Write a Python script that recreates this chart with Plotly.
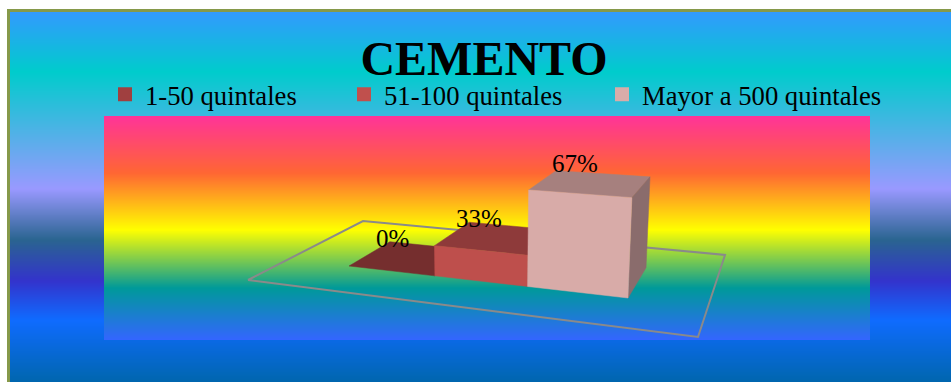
import numpy as np
import plotly.graph_objects as go

# ---- data
categories = ["1-50 quintales", "51-100 quintales", "Mayor a 500 quintales"]
values = [0, 33, 67]
value_labels = ["0%", "33%", "67%"]
title_text = "CEMENTO"

# ---- styles
W, H = 951, 382
legend_colors = ["#A04040", "#C0504D", "#D9ACA9"]
front_colors = ["#752E2E", "#BE4F4C", "#D8ABA8"]
top_colors = ["#752E2E", "#8E3A3A", "#A6807E"]
side_colors = ["#752E2E", "#8E3A3A", "#8A6C6C"]
serif = "Liberation Serif"

# ---- oblique view: (category position, depth, share of total) -> page position
VIEW = np.array([
    [328.34, 207.96, -12.15, 248.0],
    [-1.74, -2.40, -98.5, 280.0],
    [-0.1743, 0.2561, -0.025, 1.0],
])
FLOOR_X = (-0.75, 3.74)
BAR_DEPTH = (0.304, 0.70)
LABEL_DEPTH = 0.433


def project(x, depth, z):
    s = (np.asarray(x, float) - FLOOR_X[0]) / (FLOOR_X[1] - FLOOR_X[0])
    t = np.asarray(depth, float)
    h = np.asarray(z, float) / 100.0
    pt = np.stack([s, t, h, np.ones_like(s)])
    u, v, w = VIEW @ pt
    return u / w, v / w


def gradient(x_edges, y_top, y_bottom, stops, name):
    rows = np.arange(y_top, y_bottom + 1)
    z = ((rows[:-1] + rows[1:]) / 2).reshape(-1, 1)
    lo, hi = stops[0][0], stops[-1][0]
    scale = [[(p - lo) / (hi - lo), c] for p, c in stops]
    return go.Heatmap(x=x_edges, y=rows, z=z, zmin=lo, zmax=hi, colorscale=scale,
                      showscale=False, hoverinfo="skip", name=name, showlegend=False,
                      zsmooth=False)


def face(x, depth, z, color):
    u, v = project(x, depth, z)
    return go.Scatter(x=u, y=v, mode="lines", fill="toself", fillcolor=color,
                      line=dict(width=0.5, color=color), hoverinfo="skip", showlegend=False)


fig = go.Figure()

outer_stops = [(11, "#3399FF"), (72, "#00CCCC"), (189, "#9999FF"), (240, "#2A6490"),
               (281, "#3333CC"), (320, "#0F6BFF"), (382, "#0066AE")]
inner_stops = [(116, "#FF3399"), (173, "#FF6633"), (230, "#FFFF00"), (288, "#009999"), (340, "#3366FF")]
fig.add_trace(gradient([10, 951], 12, 382, outer_stops, "chart area"))
fig.add_trace(gradient([104, 870], 116, 340, inner_stops, "plot area"))

# floor outline
fx, fy = FLOOR_X[0], FLOOR_X[1]
u, v = project([fx, fy, fy, fx, fx], [0, 0, 1, 1, 0], [0, 0, 0, 0, 0])
fig.add_trace(go.Scatter(x=u, y=v, mode="lines", line=dict(color="#8A8A8A", width=2),
                         hoverinfo="skip", showlegend=False))

# bars are drawn to the running total of the shares
heights = np.cumsum(values)
d0, d1 = BAR_DEPTH
for i, hgt in enumerate(heights):
    x0, x1 = i, i + 1
    fig.add_trace(face([x0, x1, x1, x0, x0], [d0, d0, d1, d1, d0], [hgt] * 5, top_colors[i]))
    if hgt > 0:
        fig.add_trace(face([x1, x1, x1, x1, x1], [d0, d1, d1, d0, d0], [0, 0, hgt, hgt, 0], side_colors[i]))
        fig.add_trace(face([x0, x1, x1, x0, x0], [d0, d0, d0, d0, d0], [0, 0, hgt, hgt, 0], front_colors[i]))

# legend entries
widths = [194, 213, 245]
for cat, col, wd in zip(categories, legend_colors, widths):
    fig.add_trace(go.Scatter(x=[None], y=[None], mode="markers", name=cat, legendwidth=wd,
                             marker=dict(symbol="square", size=14, color=col)))

# value labels
for i, (hgt, lab) in enumerate(zip(heights, value_labels)):
    u, v = project([i + 0.5], [LABEL_DEPTH], [hgt])
    fig.add_annotation(x=float(u[0]), y=float(v[0]), text=lab, showarrow=False, xshift=-12, yshift=23.5,
                       font=dict(family=serif, size=25, color="black"))

fig.update_layout(
    width=W, height=H, autosize=False,
    margin=dict(l=0, r=0, t=0, b=0, pad=0),
    paper_bgcolor="white", plot_bgcolor="rgba(0,0,0,0)",
    xaxis=dict(range=[0, W], visible=False, fixedrange=True, domain=[0, 1]),
    yaxis=dict(range=[H, 0], visible=False, fixedrange=True, domain=[0, 1]),
    title=dict(text=title_text, x=484 / W, xanchor="center", y=1 - 58 / H, yanchor="middle",
               font=dict(family=serif, size=48, color="black", weight="bold")),
    legend=dict(orientation="h", x=105 / W, xanchor="left", y=1 - 94.5 / H, yanchor="middle",
                bgcolor="rgba(0,0,0,0)", font=dict(family=serif, size=26.67, color="black"),
                itemwidth=30, traceorder="normal", itemclick=False, itemdoubleclick=False),
    shapes=[dict(type="rect", xref="x", yref="y", x0=7, x1=W, y0=9, y1=H, layer="below",
                 fillcolor="#86994A", line=dict(width=0))],
    showlegend=True,
)

fig.write_html("out.html", config=dict(displayModeBar=False),
               post_script="document.body.style.margin='0';document.body.style.overflow='hidden';")
